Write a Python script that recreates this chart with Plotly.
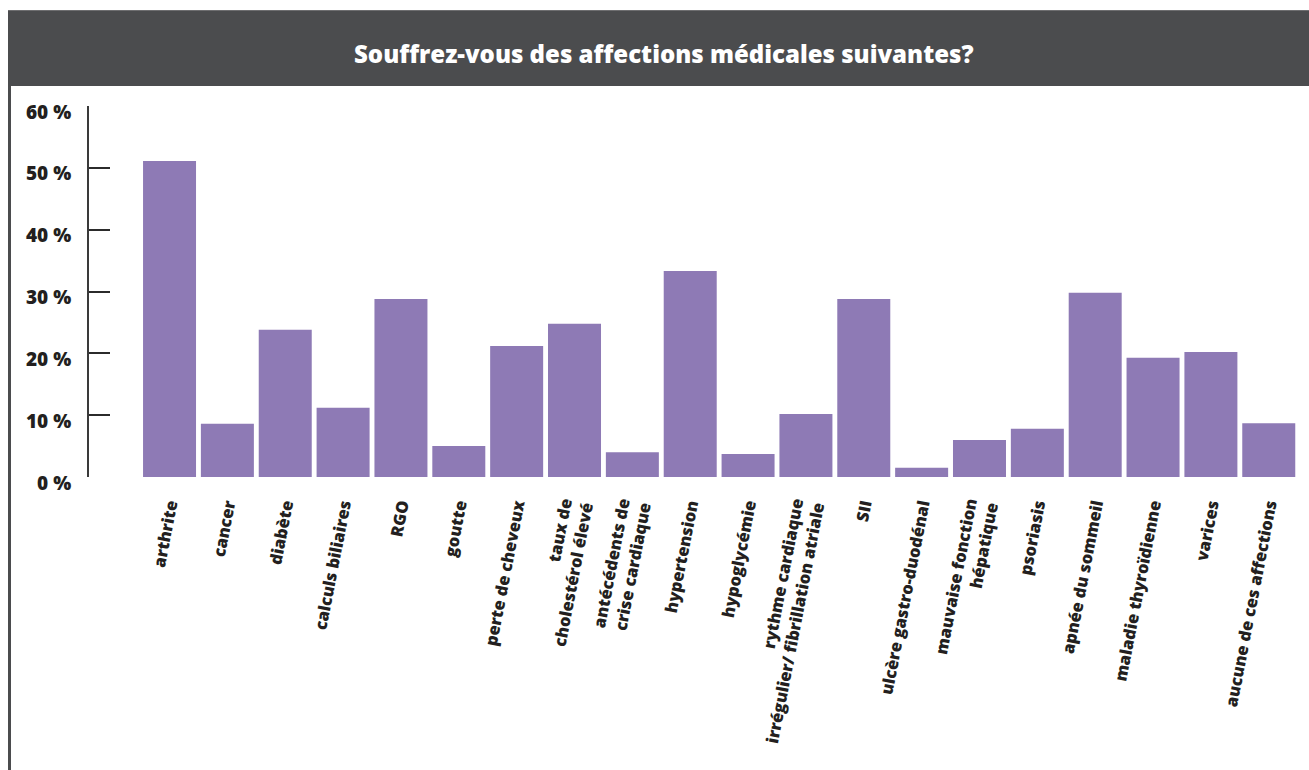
import plotly.graph_objects as go

# Survey results: share of respondents reporting each condition (%)
categories = [
    "arthrite",
    "cancer",
    "diabète",
    "calculs biliaires",
    "RGO",
    "goutte",
    "perte de cheveux",
    "taux de<br>cholestérol élevé",
    "antécédents de<br>crise cardiaque",
    "hypertension",
    "hypoglycémie",
    "rythme cardiaque<br>irrégulier/ fibrillation atriale",
    "SII",
    "ulcère gastro-duodénal",
    "mauvaise fonction<br>hépatique",
    "psoriasis",
    "apnée du sommeil",
    "maladie thyroïdienne",
    "varices",
    "aucune de ces affections",
]
values = [51.1, 8.6, 23.8, 11.2, 28.8, 5.0, 21.2, 24.8, 4.0, 33.3,
          3.7, 10.2, 28.8, 1.5, 6.0, 7.8, 29.8, 19.3, 20.2, 8.7]

y_tick_values = [0, 10, 20, 30, 40, 50, 60]
y_tick_labels = ["0 %", "10 %", "20 %", "30 %", "40 %", "50 %", "60 %"]

title_text = "Souffrez-vous des affections médicales suivantes?"

W, H = 1309, 770
ML, MR, MT, MB = 89, 9, 106, 293
PW, PH = W - ML - MR, H - MT - MB


def px_x(x):
    """Convert a page pixel x to paper coordinates."""
    return (x - ML) / PW


def px_y(y):
    """Convert a page pixel y (from top) to paper coordinates."""
    return (H - MB - y) / PH


BAR = "#8e7ab5"
DARK = "#4b4c4e"
INK = "#231f20"
FONT = "Open Sans"

fig = go.Figure(
    go.Bar(
        x=list(range(len(categories))),
        y=values,
        marker=dict(color=BAR, line=dict(width=0)),
        hoverinfo="skip",
    )
)

fig.update_layout(
    width=W,
    height=H,
    margin=dict(l=ML, r=MR, t=MT, b=MB, pad=0),
    paper_bgcolor="white",
    plot_bgcolor="white",
    showlegend=False,
    bargap=0.084,
    xaxis=dict(
        range=[-1.392, len(categories) - 1 + 0.54],
        tickmode="array",
        tickvals=list(range(len(categories))),
        ticktext=categories,
        tickangle=-79,
        ticks="",
        showline=False,
        showgrid=False,
        zeroline=False,
        ticklabelstandoff=14,
        tickfont=dict(family=FONT, size=16.5, color=INK, weight=800),
    ),
    yaxis=dict(
        range=[0, 60],
        tickmode="array",
        tickvals=y_tick_values,
        ticktext=y_tick_labels,
        ticks="inside",
        ticklen=21,
        tickwidth=2,
        tickcolor="#2b2b2b",
        showline=True,
        linewidth=2,
        linecolor="#3a3a3a",
        showgrid=False,
        zeroline=False,
        ticklabelstandoff=12,
        ticklabelshift=6,
        tickfont=dict(family=FONT, size=19, color=INK, weight=800),
    ),
    shapes=[
        # header band
        dict(type="rect", xref="paper", yref="paper",
             x0=px_x(8), x1=px_x(W), y0=px_y(86), y1=px_y(10),
             fillcolor=DARK, line=dict(width=0), layer="below"),
        # thin lighter rule along the top of the header
        dict(type="line", xref="paper", yref="paper",
             x0=px_x(8), x1=px_x(W), y0=px_y(10.5), y1=px_y(10.5),
             line=dict(color="#6e6e70", width=1)),
        # left frame edge
        dict(type="line", xref="paper", yref="paper",
             x0=px_x(9.5), x1=px_x(9.5), y0=px_y(86), y1=px_y(H),
             line=dict(color=DARK, width=3)),
    ],
    annotations=[
        dict(text=title_text, xref="paper", yref="paper",
             x=px_x(664), y=px_y(53), xanchor="center", yanchor="middle",
             showarrow=False,
             font=dict(family=FONT, size=24, color="white", weight=800)),
    ],
)

fig.write_html("out.html")
